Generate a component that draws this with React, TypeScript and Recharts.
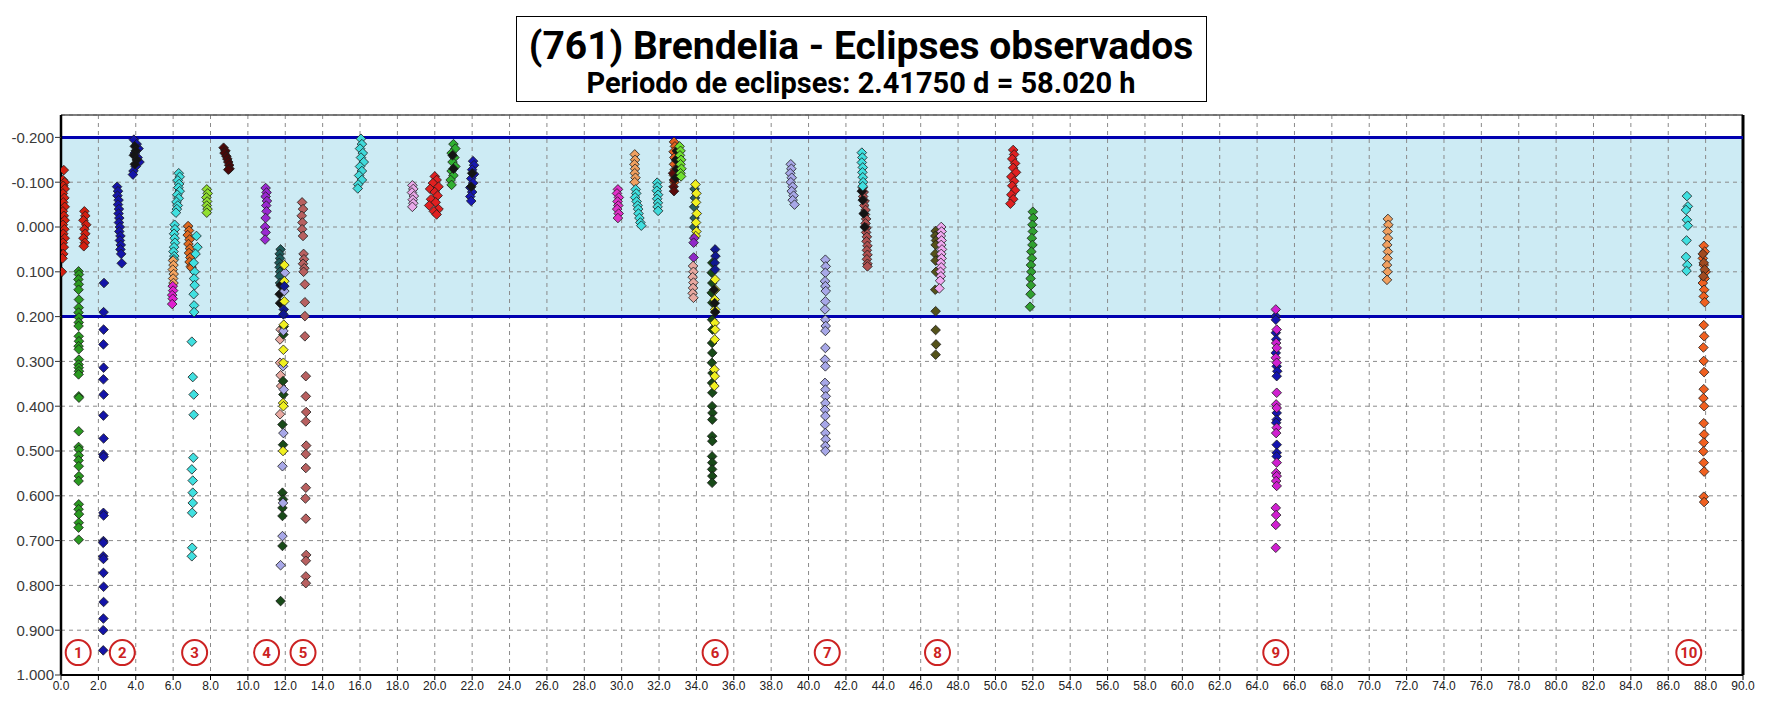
import React from 'react'
import {
  ScatterChart,
  Scatter,
  XAxis,
  YAxis,
  CartesianGrid,
  ReferenceLine,
} from 'recharts'

type Pt = [number, number]

// eje x (horas) y eje y (magnitud relativa)
const xTicks = [0, 2, 4, 6, 8, 10, 12, 14, 16, 18, 20, 22, 24, 26, 28, 30, 32, 34, 36, 38, 40, 42, 44, 46, 48, 50, 52, 54, 56, 58, 60, 62, 64, 66, 68, 70, 72, 74, 76, 78, 80, 82, 84, 86, 88, 90]
const yTicks = [-0.2, -0.1, 0, 0.1, 0.2, 0.3, 0.4, 0.5, 0.6, 0.7, 0.8, 0.9, 1.0]

// eclipses numerados
const eclipseNums = ['1', '2', '3', '4', '5', '6', '7', '8', '9', '10']
const eclipseX = [0.92, 3.28, 7.15, 11.0, 12.95, 35.0, 41.0, 46.9, 65.0, 87.1]
const eclipseY = 0.95

// sesiones
const red01: Pt[] = [[0.15, -0.127], [0.1, -0.105], [0.2, -0.1], [0.12, -0.092], [0.2, -0.085], [0.1, -0.075], [0.18, -0.065], [0.12, -0.055], [0.2, -0.045], [0.1, -0.035], [0.15, -0.025], [0.2, -0.015], [0.1, -0.005], [0.18, 0.005], [0.12, 0.015], [0.2, 0.025], [0.1, 0.035], [0.15, 0.045], [0.12, 0.06], [0.08, 0.07], [0.05, 0.1]]
const red01b: Pt[] = [[1.25, -0.035], [1.3, -0.025], [1.2, -0.015], [1.35, -0.005], [1.25, 0.005], [1.3, 0.015], [1.2, 0.025], [1.28, 0.035], [1.22, 0.043]]
const green01: Pt[] = [[0.94, 0.099], [0.96, 0.106], [0.93, 0.117], [0.95, 0.128], [0.94, 0.14], [0.96, 0.162], [0.95, 0.18], [0.94, 0.191], [0.96, 0.202], [0.95, 0.213], [0.94, 0.221], [0.95, 0.244], [0.96, 0.255], [0.94, 0.266], [0.95, 0.273], [0.96, 0.296], [0.94, 0.307], [0.95, 0.314], [0.96, 0.322], [0.94, 0.329], [0.95, 0.378], [0.96, 0.381], [0.95, 0.456], [0.94, 0.491], [0.96, 0.497], [0.95, 0.51], [0.94, 0.521], [0.95, 0.534], [0.96, 0.556], [0.94, 0.567], [0.95, 0.619], [0.94, 0.63], [0.96, 0.641], [0.95, 0.66], [0.94, 0.671], [0.95, 0.698]]
const blue02: Pt[] = [[2.3, 0.125], [2.28, 0.19], [2.28, 0.229], [2.27, 0.262], [2.28, 0.314], [2.27, 0.34], [2.28, 0.374], [2.27, 0.421], [2.28, 0.472], [2.27, 0.508], [2.28, 0.513], [2.27, 0.638], [2.28, 0.644], [2.27, 0.701], [2.26, 0.705], [2.26, 0.735], [2.27, 0.741], [2.27, 0.772], [2.28, 0.803], [2.28, 0.837], [2.27, 0.874], [2.26, 0.9], [2.26, 0.945]]
const blue02b: Pt[] = [[3.0, -0.09], [3.05, -0.08], [3.02, -0.07], [3.08, -0.06], [3.05, -0.05], [3.1, -0.04], [3.08, -0.03], [3.12, -0.02], [3.1, -0.01], [3.15, 0.0], [3.12, 0.01], [3.18, 0.02], [3.15, 0.03], [3.2, 0.04], [3.18, 0.05], [3.22, 0.06], [3.25, 0.081]]
const blue02c: Pt[] = [[3.9, -0.195], [4.05, -0.185], [4.15, -0.175], [3.95, -0.165], [4.1, -0.155], [4.2, -0.145], [4.0, -0.135], [3.88, -0.125], [3.85, -0.117]]
const black02c: Pt[] = [[3.95, -0.18], [4.0, -0.17], [3.9, -0.16], [4.05, -0.15], [3.95, -0.14]]
const cyan03a: Pt[] = [[6.3, -0.12], [6.35, -0.112], [6.25, -0.104], [6.32, -0.096], [6.28, -0.088], [6.35, -0.08], [6.22, -0.072], [6.3, -0.064], [6.18, -0.056], [6.25, -0.048], [6.2, -0.04], [6.15, -0.032]]
const cyan03b: Pt[] = [[6.08, -0.005], [6.1, 0.005], [6.05, 0.015], [6.08, 0.025], [6.1, 0.035], [6.05, 0.045], [6.02, 0.055], [6.06, 0.065], [6.04, 0.072]]
const sandy03: Pt[] = [[6.0, 0.075], [6.02, 0.085], [5.98, 0.095], [6.03, 0.105], [6.0, 0.115], [6.02, 0.125]]
const magenta03: Pt[] = [[5.98, 0.132], [6.0, 0.142], [5.95, 0.152], [5.98, 0.16], [5.95, 0.172]]
const orange03: Pt[] = [[6.8, -0.002], [6.85, 0.008], [6.78, 0.018], [6.88, 0.028], [6.82, 0.038], [6.9, 0.048], [6.85, 0.058], [6.92, 0.068], [6.88, 0.078], [6.95, 0.088], [6.98, 0.091]]
const cyan03c: Pt[] = [[7.25, 0.02], [7.3, 0.045], [7.2, 0.06], [7.1, 0.08], [7.15, 0.1], [7.12, 0.115], [7.15, 0.13], [7.1, 0.15], [7.12, 0.175], [7.12, 0.19], [7.0, 0.256], [7.05, 0.335], [7.1, 0.374], [7.1, 0.419], [7.08, 0.515], [7.0, 0.541], [7.05, 0.566], [7.05, 0.593], [7.05, 0.616], [7.02, 0.638], [7.02, 0.716], [7.0, 0.735]]
const lime08: Pt[] = [[7.8, -0.084], [7.85, -0.075], [7.78, -0.066], [7.82, -0.057], [7.8, -0.048], [7.84, -0.04], [7.8, -0.032]]
const maroon09: Pt[] = [[8.7, -0.177], [8.8, -0.17], [8.75, -0.165], [8.85, -0.158], [8.9, -0.152], [8.95, -0.145], [9.0, -0.138], [9.02, -0.13], [8.95, -0.128]]
const purple11: Pt[] = [[10.95, -0.087], [11.0, -0.077], [10.95, -0.068], [11.02, -0.058], [10.98, -0.048], [11.0, -0.035], [10.95, -0.02], [10.92, 0.0], [10.95, 0.012], [10.92, 0.028]]
const teal12: Pt[] = [[11.75, 0.05], [11.7, 0.06], [11.72, 0.07], [11.68, 0.08], [11.7, 0.09], [11.72, 0.1], [11.7, 0.11], [11.72, 0.125]]
const black12: Pt[] = [[11.75, 0.13], [11.7, 0.15], [11.72, 0.17]]
const yellow12: Pt[] = [[11.95, 0.085], [11.95, 0.121], [11.95, 0.166], [11.92, 0.218], [11.9, 0.274], [11.9, 0.303], [11.88, 0.393], [11.9, 0.4], [11.88, 0.5]]
const lavender12: Pt[] = [[11.98, 0.102], [11.95, 0.143], [11.9, 0.232], [11.88, 0.311], [11.92, 0.363], [11.9, 0.46], [11.85, 0.534], [11.88, 0.616], [11.85, 0.69], [11.75, 0.755]]
const dkgreen12: Pt[] = [[11.92, 0.222], [11.9, 0.24], [11.88, 0.344], [11.9, 0.374], [11.85, 0.441], [11.88, 0.486], [11.85, 0.593], [11.88, 0.608], [11.85, 0.627], [11.85, 0.645], [11.85, 0.712], [11.75, 0.835]]
const pink12: Pt[] = [[11.75, 0.229], [11.72, 0.251], [11.72, 0.303], [11.75, 0.331], [11.78, 0.355], [11.72, 0.418]]
const navy12: Pt[] = [[11.95, 0.132], [11.92, 0.184], [11.9, 0.195]]
const rosy13: Pt[] = [[12.9, -0.055], [12.95, -0.04], [12.88, -0.025], [12.92, -0.01], [12.9, 0.005], [12.95, 0.02], [12.98, 0.06], [13.0, 0.072], [12.95, 0.082], [13.02, 0.092], [12.98, 0.1], [13.05, 0.128], [13.05, 0.168], [13.05, 0.199], [13.05, 0.244], [13.1, 0.333], [13.1, 0.378], [13.12, 0.413], [13.1, 0.434], [13.12, 0.488], [13.1, 0.507], [13.1, 0.538], [13.1, 0.582], [13.08, 0.606], [13.1, 0.651], [13.12, 0.732], [13.1, 0.745], [13.1, 0.78], [13.1, 0.795]]
const cyan16: Pt[] = [[16.05, -0.197], [16.1, -0.185], [16.0, -0.175], [16.15, -0.165], [16.05, -0.155], [16.2, -0.145], [16.0, -0.135], [16.1, -0.125], [15.95, -0.115], [16.1, -0.105], [15.9, -0.095], [15.88, -0.086]]
const pink19: Pt[] = [[18.8, -0.093], [18.85, -0.085], [18.78, -0.077], [18.88, -0.069], [18.82, -0.061], [18.85, -0.053], [18.8, -0.045]]
const red20: Pt[] = [[20.0, -0.113], [20.1, -0.105], [19.9, -0.098], [20.2, -0.09], [19.75, -0.085], [20.0, -0.078], [20.15, -0.07], [19.8, -0.062], [20.05, -0.055], [19.7, -0.048], [20.2, -0.04], [19.95, -0.035], [20.1, -0.028]]
const green21: Pt[] = [[21.0, -0.185], [21.1, -0.175], [20.9, -0.165], [21.05, -0.155], [20.95, -0.145], [21.1, -0.135], [20.9, -0.125], [21.0, -0.115], [20.85, -0.105], [20.9, -0.094]]
const blue22: Pt[] = [[22.05, -0.147], [22.1, -0.138], [22.0, -0.128], [22.1, -0.118], [21.95, -0.108], [22.05, -0.098], [21.9, -0.088], [22.0, -0.078], [21.9, -0.068], [21.95, -0.058]]
const black21: Pt[] = [[20.95, -0.16], [21.0, -0.13], [22.0, -0.12], [21.95, -0.09]]
const magenta30: Pt[] = [[29.8, -0.084], [29.75, -0.075], [29.85, -0.066], [29.78, -0.057], [29.82, -0.048], [29.76, -0.04], [29.84, -0.03], [29.8, -0.02]]
const sandy31: Pt[] = [[30.7, -0.162], [30.72, -0.15], [30.68, -0.14], [30.72, -0.13], [30.7, -0.12], [30.74, -0.11], [30.7, -0.1]]
const cyan31: Pt[] = [[30.75, -0.084], [30.78, -0.075], [30.72, -0.066], [30.8, -0.057], [30.85, -0.048], [30.88, -0.04], [30.9, -0.03], [30.95, -0.02], [31.0, -0.01], [31.05, -0.003]]
const cyan32: Pt[] = [[31.9, -0.099], [31.92, -0.09], [31.88, -0.081], [31.95, -0.072], [31.9, -0.063], [31.94, -0.054], [31.92, -0.045], [31.95, -0.036]]
const orange33: Pt[] = [[32.8, -0.19], [32.85, -0.18], [32.78, -0.168], [32.82, -0.155], [32.8, -0.14], [32.84, -0.128], [32.8, -0.115], [32.82, -0.1]]
const maroon33: Pt[] = [[32.75, -0.12], [32.8, -0.105], [32.78, -0.09], [32.8, -0.08]]
const lime33: Pt[] = [[33.1, -0.18], [33.15, -0.17], [33.12, -0.16], [33.18, -0.15], [33.15, -0.14], [33.2, -0.13], [33.15, -0.12], [33.18, -0.113]]
const black33: Pt[] = [[32.95, -0.17], [32.9, -0.15], [32.95, -0.13], [32.9, -0.11]]
const yellow34: Pt[] = [[33.95, -0.095], [34.0, -0.075], [33.98, -0.055], [34.02, -0.03], [33.98, -0.01], [34.0, 0.01], [33.96, 0.02]]
const teal34: Pt[] = [[33.9, -0.085], [33.92, -0.065], [33.88, -0.045], [33.9, -0.02], [33.88, 0.0]]
const purple34: Pt[] = [[33.88, 0.025], [33.85, 0.035], [33.85, 0.068]]
const pink34: Pt[] = [[33.82, 0.087], [33.84, 0.1], [33.8, 0.112], [33.84, 0.124], [33.82, 0.136], [33.8, 0.148], [33.84, 0.158]]
const navy35: Pt[] = [[35.0, 0.05], [35.02, 0.065], [34.98, 0.08], [35.0, 0.095]]
const dkgreen35: Pt[] = [[34.85, 0.08], [34.82, 0.102], [34.85, 0.125], [34.82, 0.147], [34.85, 0.169], [34.84, 0.207], [34.86, 0.229], [34.84, 0.259], [34.85, 0.281], [34.83, 0.303], [34.86, 0.326], [34.84, 0.348], [34.85, 0.37], [34.84, 0.4], [34.86, 0.415], [34.85, 0.43], [34.84, 0.467], [34.85, 0.478], [34.84, 0.512], [34.85, 0.526], [34.84, 0.541], [34.85, 0.556], [34.84, 0.571]]
const yellow35: Pt[] = [[35.0, 0.117], [35.02, 0.14], [34.98, 0.162], [35.0, 0.184], [34.98, 0.214], [35.0, 0.229], [34.98, 0.251], [34.96, 0.318], [34.98, 0.333], [34.96, 0.355]]
const black35: Pt[] = [[34.95, 0.14], [34.98, 0.17], [35.0, 0.19]]
const lavender39: Pt[] = [[39.05, -0.14], [39.08, -0.13], [39.02, -0.12], [39.1, -0.11], [39.05, -0.1], [39.15, -0.09], [39.1, -0.08], [39.2, -0.07], [39.15, -0.06], [39.25, -0.05]]
const lavender41: Pt[] = [[40.9, 0.073], [40.92, 0.088], [40.9, 0.102], [40.88, 0.121], [40.9, 0.132], [40.92, 0.143], [40.9, 0.166], [40.88, 0.184], [40.9, 0.207], [40.92, 0.221], [40.9, 0.232], [40.9, 0.27], [40.88, 0.296], [40.9, 0.311], [40.88, 0.348], [40.9, 0.363], [40.92, 0.378], [40.9, 0.393], [40.88, 0.408], [40.9, 0.422], [40.88, 0.441], [40.9, 0.46], [40.92, 0.474], [40.9, 0.489], [40.9, 0.5]]
const cyan43: Pt[] = [[42.85, -0.166], [42.88, -0.155], [42.85, -0.144], [42.9, -0.133], [42.88, -0.122], [42.9, -0.111], [42.92, -0.1], [42.9, -0.091]]
const rosy43: Pt[] = [[42.9, -0.088], [42.95, -0.078], [42.92, -0.068], [43.0, -0.058], [42.98, -0.048], [43.05, -0.038], [43.02, -0.028], [43.08, -0.018], [43.05, -0.008], [43.1, 0.002], [43.08, 0.012], [43.12, 0.022], [43.1, 0.032], [43.15, 0.042], [43.12, 0.052], [43.15, 0.062], [43.12, 0.072], [43.15, 0.082], [43.15, 0.088]]
const black43: Pt[] = [[42.85, -0.08], [42.9, -0.06], [42.95, -0.03], [43.0, 0.0]]
const olive47: Pt[] = [[46.8, 0.009], [46.78, 0.02], [46.82, 0.03], [46.8, 0.04], [46.78, 0.06], [46.8, 0.075], [46.82, 0.1], [46.78, 0.14], [46.8, 0.188], [46.8, 0.23], [46.82, 0.262], [46.8, 0.285]]
const violet47: Pt[] = [[47.1, 0.0], [47.12, 0.01], [47.08, 0.02], [47.12, 0.03], [47.1, 0.04], [47.14, 0.05], [47.1, 0.06], [47.12, 0.07], [47.08, 0.08], [47.1, 0.09], [47.06, 0.1], [47.08, 0.11], [47.04, 0.12], [47.0, 0.137]]
const red51: Pt[] = [[50.95, -0.172], [51.0, -0.162], [50.9, -0.152], [51.05, -0.142], [50.95, -0.132], [51.1, -0.122], [50.85, -0.112], [51.0, -0.102], [50.9, -0.092], [51.05, -0.082], [50.85, -0.072], [50.95, -0.062], [50.8, -0.052]]
const green52: Pt[] = [[52.0, -0.034], [52.02, -0.02], [51.98, -0.005], [52.0, 0.01], [51.95, 0.025], [51.98, 0.04], [51.92, 0.055], [51.95, 0.07], [51.9, 0.085], [51.92, 0.1], [51.88, 0.115], [51.9, 0.13], [51.88, 0.15], [51.85, 0.178]]
const magenta65: Pt[] = [[65.0, 0.184], [65.05, 0.229], [65.02, 0.259], [65.05, 0.27], [65.0, 0.292], [65.05, 0.303], [65.05, 0.37], [65.02, 0.396], [65.05, 0.404], [65.05, 0.448], [65.02, 0.46], [65.05, 0.526], [65.02, 0.549], [65.05, 0.556], [65.02, 0.567], [65.05, 0.578], [65.0, 0.627], [65.02, 0.643], [65.0, 0.665], [65.0, 0.716]]
const blue65: Pt[] = [[65.0, 0.199], [65.0, 0.207], [65.0, 0.236], [65.02, 0.251], [65.0, 0.281], [65.05, 0.311], [65.08, 0.322], [65.05, 0.333], [65.05, 0.415], [65.05, 0.43], [65.02, 0.437], [65.05, 0.486], [65.05, 0.504], [65.05, 0.512]]
const sandy71: Pt[] = [[71.0, -0.018], [71.02, -0.005], [70.98, 0.01], [71.0, 0.025], [70.96, 0.04], [71.0, 0.055], [70.98, 0.07], [70.95, 0.085], [70.98, 0.1], [70.95, 0.118]]
const cyan87: Pt[] = [[87.0, -0.069], [87.05, -0.046], [86.95, -0.038], [87.0, -0.016], [87.05, -0.003], [86.98, 0.03], [86.95, 0.067], [87.02, 0.085], [86.98, 0.098]]
const orange88: Pt[] = [[87.9, 0.042], [87.95, 0.055], [87.85, 0.07], [87.9, 0.085], [88.0, 0.1], [87.95, 0.115], [87.85, 0.125], [87.92, 0.14], [87.9, 0.155], [87.95, 0.168], [87.9, 0.219], [87.92, 0.244], [87.88, 0.269], [87.9, 0.299], [87.92, 0.324], [87.9, 0.362], [87.88, 0.382], [87.92, 0.4], [87.9, 0.438], [87.92, 0.463], [87.9, 0.481], [87.88, 0.501], [87.9, 0.526], [87.92, 0.546], [87.9, 0.602], [87.92, 0.614]]
const brown88: Pt[] = [[87.85, 0.06], [87.9, 0.08], [87.95, 0.095], [87.88, 0.11]]

const series: { pts: Pt[]; color: string }[] = [
  { pts: red01, color: '#d42010' },
  { pts: red01b, color: '#d42010' },
  { pts: green01, color: '#2a9a20' },
  { pts: blue02, color: '#1414a8' },
  { pts: blue02b, color: '#1414a8' },
  { pts: blue02c, color: '#1414a8' },
  { pts: black02c, color: '#141414' },
  { pts: cyan03a, color: '#40e0e0' },
  { pts: cyan03b, color: '#40e0e0' },
  { pts: sandy03, color: '#f4a460' },
  { pts: magenta03, color: '#e020d0' },
  { pts: orange03, color: '#e06a20' },
  { pts: cyan03c, color: '#40e0e0' },
  { pts: lime08, color: '#90e030' },
  { pts: maroon09, color: '#4a0808' },
  { pts: purple11, color: '#9a28d0' },
  { pts: teal12, color: '#1e5a5a' },
  { pts: black12, color: '#141414' },
  { pts: pink12, color: '#e8a8a0' },
  { pts: dkgreen12, color: '#184a18' },
  { pts: lavender12, color: '#a8a8e8' },
  { pts: yellow12, color: '#f0f020' },
  { pts: navy12, color: '#101890' },
  { pts: rosy13, color: '#b86060' },
  { pts: cyan16, color: '#40dada' },
  { pts: pink19, color: '#e8a8e8' },
  { pts: red20, color: '#e02020' },
  { pts: green21, color: '#30b030' },
  { pts: blue22, color: '#1818b0' },
  { pts: black21, color: '#141414' },
  { pts: magenta30, color: '#e030c8' },
  { pts: sandy31, color: '#f0a060' },
  { pts: cyan31, color: '#40e0e0' },
  { pts: cyan32, color: '#40dada' },
  { pts: orange33, color: '#e06020' },
  { pts: maroon33, color: '#5a0c0c' },
  { pts: black33, color: '#141414' },
  { pts: lime33, color: '#70e030' },
  { pts: teal34, color: '#2a6060' },
  { pts: yellow34, color: '#f0f020' },
  { pts: purple34, color: '#9028c8' },
  { pts: pink34, color: '#e8a8a0' },
  { pts: dkgreen35, color: '#184a18' },
  { pts: yellow35, color: '#f0f020' },
  { pts: black35, color: '#141414' },
  { pts: navy35, color: '#101890' },
  { pts: lavender39, color: '#a8a8e8' },
  { pts: lavender41, color: '#a8a8e8' },
  { pts: rosy43, color: '#b05050' },
  { pts: black43, color: '#141414' },
  { pts: cyan43, color: '#40e0e0' },
  { pts: olive47, color: '#54521a' },
  { pts: violet47, color: '#f0a8f0' },
  { pts: red51, color: '#e02020' },
  { pts: green52, color: '#30a030' },
  { pts: blue65, color: '#1414b0' },
  { pts: magenta65, color: '#d020d0' },
  { pts: sandy71, color: '#f0a060' },
  { pts: cyan87, color: '#40e0e0' },
  { pts: orange88, color: '#f06020' },
  { pts: brown88, color: '#a04a20' },
]

const labelRows = eclipseNums.map((n, i) => ({ x: eclipseX[i], y: eclipseY, label: n }))

// franja azul (-0.2 .. 0.2) pintada debajo de la rejilla
const BAND = '#cdebf4'
const stripeFill = ['none', BAND, BAND, BAND, BAND, 'none', 'none', 'none', 'none', 'none', 'none', 'none', 'none', 'none', 'none']

const Diamond = (props: any) => {
  const { cx, cy, fill } = props
  if (cx == null || cy == null) return null
  const r = 4.8
  return (
    <polygon
      points={`${cx},${cy - r} ${cx + r},${cy} ${cx},${cy + r} ${cx - r},${cy}`}
      fill={fill}
      stroke="#1a1a1a"
      strokeWidth={0.8}
    />
  )
}

const CircledNum = (props: any) => {
  const { cx, cy, payload } = props
  if (cx == null || cy == null) return null
  return (
    <g>
      <circle cx={cx} cy={cy} r={12.5} fill="#fff" stroke="#cc2222" strokeWidth={2} />
      <text x={cx} y={cy + 5.5} textAnchor="middle" fontSize={15} fontWeight="bold" fill="#cc2222" fontFamily="Roboto, sans-serif">
        {payload.label}
      </text>
    </g>
  )
}

export default function App() {
  return (
    <div style={{ position: 'absolute', left: 0, top: 0, width: 1772, height: 719, background: '#fff' }}>
      <ScatterChart width={1772} height={719} margin={{ top: 115, right: 29, bottom: 18, left: 7 }}>
        <CartesianGrid stroke="#8a8a8a" strokeDasharray="4 4" horizontalFill={stripeFill} fillOpacity={1} />
        <XAxis
          type="number"
          dataKey="x"
          domain={[0, 90]}
          ticks={xTicks}
          interval={0}
          tickFormatter={(v: number) => v.toFixed(1)}
          height={26}
          tickSize={5}
          tickMargin={1}
          axisLine={{ stroke: '#000', strokeWidth: 2 }}
          tickLine={{ stroke: '#000' }}
          tick={{ fontSize: 12, fill: '#222', fontFamily: 'Liberation Sans, Arial, sans-serif' }}
          allowDataOverflow
        />
        <YAxis
          type="number"
          dataKey="y"
          domain={[-0.25, 1.0]}
          reversed
          ticks={yTicks}
          interval={0}
          tickFormatter={(v: number) => v.toFixed(3)}
          width={54}
          tickSize={6}
          tickMargin={1}
          axisLine={{ stroke: '#000', strokeWidth: 2.5 }}
          tickLine={{ stroke: '#333' }}
          tick={{ fontSize: 15, fill: '#3a3a3a', fontFamily: 'Liberation Sans, Arial, sans-serif' }}
          allowDataOverflow
        />
        <ReferenceLine y={-0.25} stroke="#555" strokeWidth={1.5} />
        <ReferenceLine x={90} stroke="#000" strokeWidth={3} />
        <ReferenceLine y={-0.2} stroke="#0000b0" strokeWidth={3} />
        <ReferenceLine y={0.2} stroke="#0000b0" strokeWidth={3} />
        {series.map((s, i) => (
          <Scatter
            key={i}
            data={s.pts.map(([x, y]) => ({ x, y }))}
            fill={s.color}
            shape={<Diamond />}
            isAnimationActive={false}
          />
        ))}
        <Scatter data={labelRows} shape={<CircledNum />} isAnimationActive={false} />
      </ScatterChart>
      <svg width={1772} height={110} style={{ position: 'absolute', left: 0, top: 0, pointerEvents: 'none' }}>
        <rect x={516.5} y={16.5} width={690} height={85} fill="#fff" stroke="#000" strokeWidth={1} />
        <text x={861} y={59} textAnchor="middle" fontSize={39} fontWeight="bold" fontFamily="Roboto, sans-serif" fill="#000">
          (761) Brendelia - Eclipses observados
        </text>
        <text x={861} y={93} textAnchor="middle" fontSize={29} fontWeight="bold" fontFamily="Roboto, sans-serif" fill="#000">
          Periodo de eclipses: 2.41750 d = 58.020 h
        </text>
      </svg>
    </div>
  )
}
